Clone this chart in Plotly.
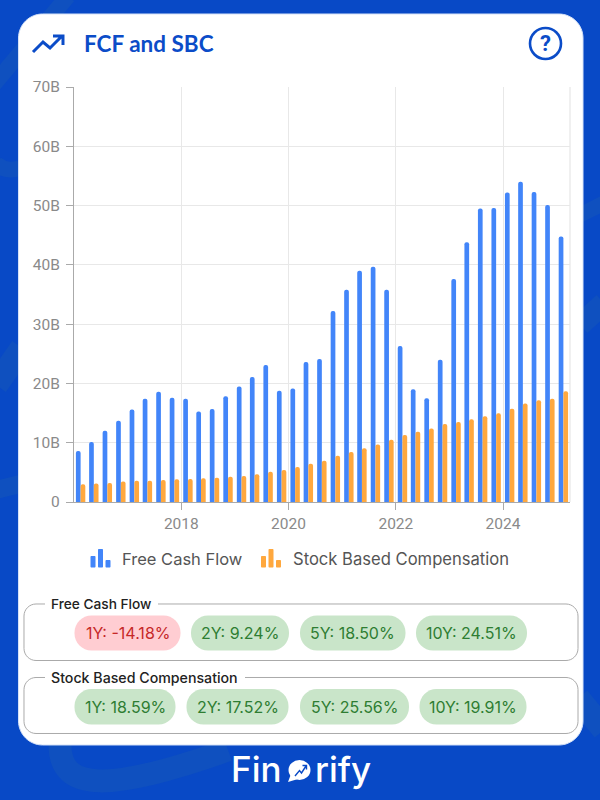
import plotly.graph_objects as go

years = list(range(2016, 2026))
months = ["02-15", "05-15", "08-15", "11-15"]
dates = [f"{y}-{m}" for y in years for m in months][:37]

fcf = [8.6, 10.1, 12.0, 13.7, 15.6, 17.4, 18.6, 17.6, 17.4, 15.25, 15.7, 17.85, 19.5, 21.1, 23.1, 18.75, 19.15,
       23.6, 24.1, 32.2, 35.8, 39.0, 39.7, 35.8, 26.3, 19.0, 17.5, 24.0, 37.6, 43.8, 49.5, 49.6, 52.2, 54.0, 52.3, 50.1, 44.8]
sbc = [3.0, 3.1, 3.2, 3.45, 3.6, 3.6, 3.7, 3.85, 3.9, 4.0, 4.1, 4.25, 4.4, 4.7, 5.1, 5.4, 5.9,
       6.45, 6.95, 7.8, 8.45, 9.05, 9.7, 10.5, 11.3, 11.85, 12.4, 13.15, 13.5, 13.95, 14.45, 14.95, 15.75, 16.6, 17.15, 17.4, 18.7]
y_ticks = [0, 10, 20, 30, 40, 50, 60, 70]
y_labels = ["0", "10B", "20B", "30B", "40B", "50B", "60B", "70B"]
fcf_pills = ["1Y: -14.18%", "2Y: 9.24%", "5Y: 18.50%", "10Y: 24.51%"]
sbc_pills = ["1Y: 18.59%", "2Y: 17.52%", "5Y: 25.56%", "10Y: 19.91%"]

W, H = 600, 800
L, R, T, B = 74, 570, 87, 502
BLUE, ORANGE, BG, TITLE = "#4285f9", "#ffa83e", "#0849c6", "#0b4cc8"


def px(x):
    return (x - L) / (R - L)


def py(y):
    return (B - y) / (B - T)


def path(cmds):
    out = []
    for c in cmds:
        if isinstance(c, str):
            out.append(c)
        else:
            out.append(f"{px(c[0]):.5f},{py(c[1]):.5f}")
    return " ".join(out)


def rrect(x0, y0, x1, y1, r):
    k = r * 0.45
    return path(["M", (x0 + r, y0), "L", (x1 - r, y0), "C", (x1 - k, y0), (x1, y0 + k), (x1, y0 + r),
                 "L", (x1, y1 - r), "C", (x1, y1 - k), (x1 - k, y1), (x1 - r, y1),
                 "L", (x0 + r, y1), "C", (x0 + k, y1), (x0, y1 - k), (x0, y1 - r),
                 "L", (x0, y0 + r), "C", (x0, y0 + k), (x0 + k, y0), (x0 + r, y0), "Z"])


shapes, annos = [], []


def add_path(d, fill=None, line=None, lw=0, layer="below"):
    shapes.append(dict(type="path", xref="paper", yref="paper", path=d, layer=layer,
                       fillcolor=fill or "rgba(0,0,0,0)", line=dict(color=line or "rgba(0,0,0,0)", width=lw)))


def add_text(x, y, text, size, color, family="Inter", anchor="center", weight=None):
    f = dict(size=size, color=color, family=family)
    if weight:
        f["weight"] = weight
    annos.append(dict(xref="paper", yref="paper", x=px(x), y=py(y), text=text, showarrow=False,
                      xanchor=anchor, yanchor="middle", font=f, borderpad=0, bgcolor="rgba(0,0,0,0)"))


# background swooshes
SW = "#0f50bf"
for d, w in [
    (["M", (68, -4), "L", (-6, 84)], 16),
    (["M", (-4, 164), "C", (6, 172), (14, 170), (20, 168)], 16),
    (["M", (-4, 385), "L", (22, 348)], 24),
    (["M", (-4, 490), "L", (20, 484)], 18),
    (["M", (60, 745), "C", (60, 792), (110, 792), (228, 750)], 23),
    (["M", (580, 215), "L", (604, 203)], 15),
    (["M", (580, 325), "L", (604, 303)], 22),
    (["M", (578, 698), "L", (604, 730)], 24),
]:
    add_path(path(d), line=SW, lw=w)

# card
add_path(rrect(18.5, 14, 583, 745, 24), fill="#ffffff", line="#d5e2f8", lw=1)
# right plot border
shapes.append(dict(type="line", xref="paper", yref="paper", x0=1, x1=1, y0=0, y1=1, layer="below",
                   line=dict(color="#e8e8e8", width=1.3)))

# trend icon
add_path(path(["M", (33, 52), "L", (43, 42), "L", (50, 48), "L", (61, 37), "M", (53, 36), "L", (63, 36), "L", (63, 45)]),
         line=TITLE, lw=3)
add_text(82.5, 44, "FCF and SBC", 22.5, TITLE, "Lato", "left", 700)

# help icon
shapes.append(dict(type="circle", xref="paper", yref="paper", x0=px(530), x1=px(561), y0=py(59), y1=py(28),
                   line=dict(color=TITLE, width=2.6), fillcolor="#ffffff", layer="below"))
add_text(545.5, 43.5, "?", 22, TITLE, "Roboto", "center", 700)

# legend
for x0, col in [(90.5, BLUE), (261, ORANGE)]:
    for dx, top in [(0, 556), (7.5, 549), (15, 560)]:
        add_path(rrect(x0 + dx, top, x0 + dx + 5, 567.5, 1), fill=col)
add_text(121, 559, "Free Cash Flow", 16.5, "#555555", "Inter", "left")
add_text(291.5, 559, "Stock Based Compensation", 16.6, "#555555", "Inter", "left")

# stat boxes
for y0, y1, title, tw, size in [(604, 660.5, "Free Cash Flow", 113, 13.7), (677.5, 733.5, "Stock Based Compensation", 200, 14.2)]:
    add_path(rrect(24, y0, 578, y1, 12), line="#aaaaaa", lw=1)
    add_path(path(["M", (45, y0), "L", (45 + tw, y0)]), line="#ffffff", lw=4)
    add_text(50, y0 - 0.5, title, size, "#222222", "Inter", "left", 500)

GREEN_BG, GREEN_FG, RED_BG, RED_FG = "#c9e5c9", "#2e7d32", "#ffcdd2", "#c62828"
fcf_spans = [(74.5, 180.5), (191, 289), (300, 405.5), (416, 527)]
sbc_spans = [(74.5, 175.5), (186.5, 288.5), (300, 409), (419.5, 526.5)]
for pills, spans, y0, y1 in [(fcf_pills, fcf_spans, 615.5, 650.5), (sbc_pills, sbc_spans, 689, 724.5)]:
    for text, (a, b) in zip(pills, spans):
        neg = text.split(": ")[1].startswith("-")
        add_path(rrect(a, y0, b, y1, 17), fill=RED_BG if neg else GREEN_BG)
        add_text((a + b) / 2, (y0 + y1) / 2, text, 16, RED_FG if neg else GREEN_FG, "Inter")

# logo
add_text(230, 769, "Fin", 35, "#ffffff", "Inter", "left", 500)
add_text(314, 769, "rify", 35, "#ffffff", "Inter", "left", 500)
shapes.append(dict(type="circle", xref="paper", yref="paper", x0=px(288.5), x1=px(310.5), y0=py(780), y1=py(760),
                   fillcolor="#ffffff", line=dict(width=0), layer="below"))
add_path(path(["M", (291, 774), "L", (288, 782), "L", (298, 779), "Z"]), fill="#ffffff")
add_path(path(["M", (295, 776), "L", (299.5, 770.5), "L", (301.5, 773), "L", (306, 766), "M", (302.5, 765.5), "L", (306.5, 765.5), "L", (306.5, 769.5)]),
         line=BG, lw=1.4)

fig = go.Figure()
fig.add_bar(x=dates, y=fcf, name="Free Cash Flow", marker=dict(color=BLUE, cornerradius=2, line_width=0))
fig.add_bar(x=dates, y=sbc, name="Stock Based Compensation", marker=dict(color=ORANGE, cornerradius=2, line_width=0))

axis_style = dict(showgrid=True, gridcolor="#e8e8e8", gridwidth=1.2, showline=True, linecolor="#aaaaaa", linewidth=1.2,
                  ticks="outside", ticklen=7, tickcolor="#aaaaaa", tickwidth=1,
                  tickfont=dict(size=15.5, color="#8a8a8a", family="Roboto"), zeroline=False)
fig.update_layout(
    width=W, height=H, barmode="group", bargap=0.28, bargroupgap=0, showlegend=False,
    margin=dict(l=L, r=W - R, t=T, b=H - B, pad=0),
    paper_bgcolor=BG, plot_bgcolor="rgba(0,0,0,0)",
    font=dict(family="Roboto", color="#888888", size=14),
    shapes=shapes, annotations=annos,
    xaxis=dict(type="date", range=["2016-01-01", "2025-04-01"], tickvals=[f"{y}-01-01" for y in (2018, 2020, 2022, 2024)],
               ticktext=["2018", "2020", "2022", "2024"], **axis_style),
    yaxis=dict(range=[0, 70], tickvals=y_ticks, ticktext=y_labels, ticklabelstandoff=3, **axis_style),
)
fig.write_html("out.html", config=dict(displayModeBar=False),
               post_script="document.body.style.margin='0';document.body.style.overflow='hidden';")
